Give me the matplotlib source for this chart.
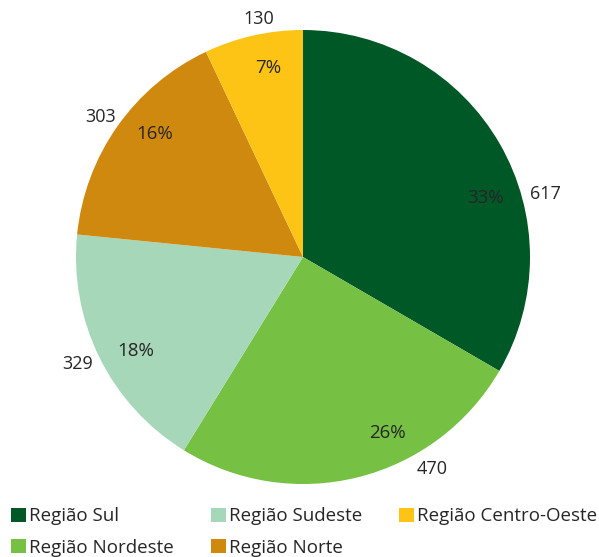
import matplotlib.pyplot as plt
from matplotlib import rcParams
from matplotlib.patches import Patch

rcParams["font.family"] = ["Open Sans", "DejaVu Sans"]

regions = ["Região Sul", "Região Nordeste", "Região Sudeste", "Região Norte", "Região Centro-Oeste"]
values = [617, 470, 329, 303, 130]
pct_labels = ["33%", "26%", "18%", "16%", "7%"]
colors = ["#005826", "#76C044", "#A7D7B9", "#D0890F", "#FDC315"]

# label placement in pie-radius units (not on the wedge midpoints in the original)
value_pos = [(1.070, 0.278), (0.568, -0.932), (-0.991, -0.471), (-0.892, 0.617), (-0.194, 1.048)]
pct_pos = [(0.806, 0.260), (0.372, -0.775), (-0.736, -0.414), (-0.652, 0.542), (-0.152, 0.833)]

text_color = "#262626"

fig = plt.figure(figsize=(5.99, 5.57), dpi=100)
# pie centred at about (303, 257) px, radius 227 px
r_px = 227
ax = fig.add_axes([(303 - r_px) / 599, (557 - 257 - r_px) / 557, 2 * r_px / 599, 2 * r_px / 557])

wedges, outer = ax.pie(
    values,
    colors=colors,
    startangle=90,
    counterclock=False,
    labels=[str(v) for v in values],
    radius=1,
    textprops={"fontsize": 13, "color": text_color},
)
for t, (x, y) in zip(outer, value_pos):
    t.set_position((x, y))
    t.set_ha("center")
    t.set_va("center")
for s, (x, y) in zip(pct_labels, pct_pos):
    ax.text(x, y, s, ha="center", va="center", fontsize=13.5, color=text_color)

ax.set_xlim(-1, 1)
ax.set_ylim(-1, 1)
ax.axis("off")

# legend: column-major order gives Sul/Nordeste, Sudeste/Norte, Centro-Oeste
handles = [Patch(facecolor=c, edgecolor="none") for c in colors]
fig.legend(
    handles,
    regions,
    loc="lower left",
    bbox_to_anchor=(-0.009, -0.030),
    ncol=3,
    frameon=False,
    fontsize=13.5,
    handlelength=0.8,
    handleheight=0.8,
    handletextpad=0.16,
    columnspacing=1.95,
    labelspacing=0.72,
    labelcolor=text_color,
)

fig.savefig("out.png", dpi=100)
